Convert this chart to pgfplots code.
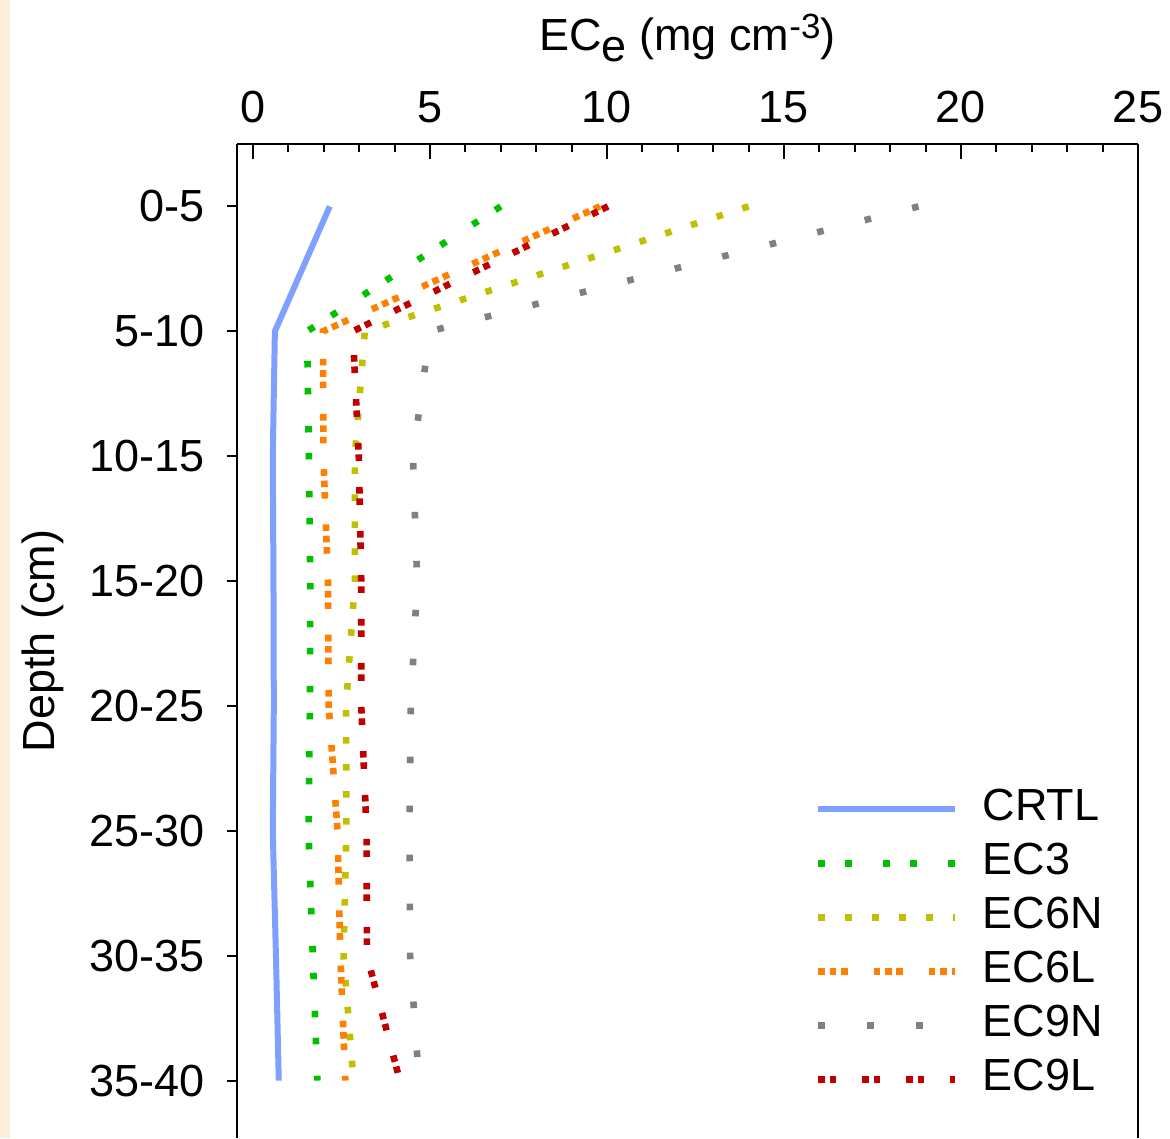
\documentclass[border=0pt]{standalone}
\usepackage{fontspec}
\setmainfont{Liberation Sans}
\usepackage{pgfplots}
\pgfplotsset{compat=1.18}
\definecolor{crtl}{RGB}{128,160,255}
\definecolor{ecthree}{RGB}{0,192,0}
\definecolor{ecsixn}{RGB}{192,192,0}
\definecolor{ecsixl}{RGB}{255,128,0}
\definecolor{ecninen}{RGB}{128,128,128}
\definecolor{ecninel}{RGB}{192,0,0}
\definecolor{cream}{RGB}{251,239,217}
\begin{document}
\begin{tikzpicture}
\useasboundingbox (0,0) rectangle (585pt,569pt);
\fill[cream] (0,0) rectangle (5pt,569pt);
\begin{axis}[
  at={(118.5pt,0pt)}, anchor=south west,
  scale only axis, width=450.5pt, height=497pt,
  xmin=-0.45, xmax=25, ymin=-0.5, ymax=7.46,
  y dir=reverse,
  axis x line*=top, axis y line*=left,
  axis line style={line width=1pt, black},
  xtick={0,5,...,25}, minor x tick num=4,
  ytick={0,...,7},
  yticklabels={0-5,5-10,10-15,15-20,20-25,25-30,30-35,35-40},
  xtick align=inside, ytick align=outside,
  major tick length=7.5pt, minor tick length=4pt,
  y tick style={/pgfplots/major tick length=5pt},
  tick style={line width=1pt, black},
  ticklabel style={font=\fontsize{22.5}{26}\selectfont},
  xticklabel style={yshift=7pt},
  yticklabel style={xshift=-5pt},
  /pgf/number format/assume math mode=true,
  xlabel={EC\raisebox{-5.5pt}{e} (mg cm\raisebox{6pt}{\fontsize{17.5}{19}\selectfont -3})},
  ylabel={Depth (cm)},
  label style={font=\fontsize{22.5}{26}\selectfont},
  xlabel style={anchor=base, yshift=17pt},
  ylabel style={yshift=6pt},
  legend cell align=left,
  legend style={at={(axis cs:15.88,4.66)}, anchor=north west, draw=none, fill=none,
    inner sep=0pt, outer sep=0pt, row sep=6pt,
    font=\fontsize{22.5}{26}\selectfont,
    nodes={inner sep=0pt, text height=16pt, text depth=5pt}},
  legend image code/.code={\draw[#1] (0pt,0pt) -- (68.5pt,0pt); \path (80.5pt,0pt);},
]
\addplot[crtl, line width=3pt] coordinates {(2.17,0) (0.62,1) (0.56,2) (0.58,3) (0.59,4) (0.56,5) (0.65,6) (0.73,7)};
\addlegendentry{CRTL}
\addplot[ecthree, line width=3.3pt, dash pattern=on 3.3pt off 10.2pt on 3.3pt off 15.7pt] coordinates {(7.0,0) (1.53,1) (1.58,2) (1.62,3) (1.61,4) (1.57,5) (1.69,6) (1.82,7)};
\addlegendentry{EC3}
\addplot[ecsixn, line width=3.3pt, dash pattern=on 3.3pt off 10.2pt] coordinates {(14.0,0) (3.16,1) (2.88,2) (2.88,3) (2.63,4) (2.64,5) (2.56,6) (2.84,7)};
\addlegendentry{EC6N}
\addplot[ecsixl, line width=3.3pt, dash pattern=on 3.3pt off 2.4pt on 3.3pt off 2.4pt on 3.3pt off 12.9pt] coordinates {(9.8,0) (1.98,1) (1.99,2) (2.12,3) (2.14,4) (2.39,5) (2.47,6) (2.61,7)};
\addlegendentry{EC6L}
\addplot[ecninen, line width=3.3pt, dash pattern=on 3.3pt off 21.2pt] coordinates {(18.8,0) (5.0,1) (4.52,2) (4.64,3) (4.46,4) (4.42,5) (4.44,6) (4.69,7)};
\addlegendentry{EC9N}
\addplot[ecninel, line width=3.3pt, dash pattern=on 3.3pt off 2.4pt on 3.3pt off 13pt] coordinates {(10.03,0) (2.82,1) (2.99,2) (3.06,3) (3.06,4) (3.21,5) (3.22,6) (4.15,7)};
\addlegendentry{EC9L}
\end{axis}
\draw[line width=1pt] (569pt,0pt) -- (569pt,497pt);
\end{tikzpicture}
\end{document}
